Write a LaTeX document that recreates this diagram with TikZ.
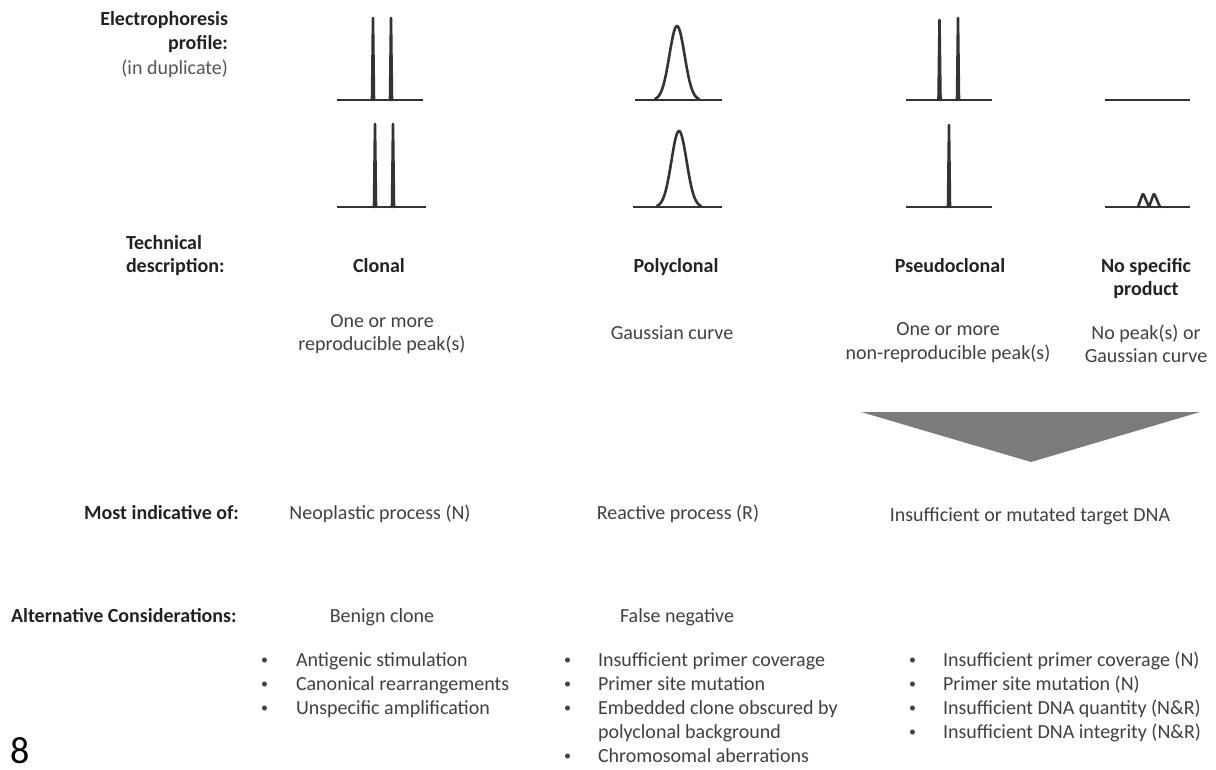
\documentclass[tikz,border=0pt]{standalone}
\usepackage{fontspec}
\setmainfont{Carlito}
\definecolor{txtc}{HTML}{404040}
\definecolor{boldc}{HTML}{222222}
\definecolor{grayc}{HTML}{555555}
\definecolor{linec}{HTML}{333333}
\definecolor{arrowc}{HTML}{7B7B7B}
\newcommand{\bul}[1]{\makebox[#1][l]{\hspace{2pt}\raisebox{1.8pt}{\scalebox{0.7}{•}}}}
\begin{document}
\begin{tikzpicture}[x=1pt,y=-1pt,
  every node/.style={inner sep=0pt, outer sep=0pt},
  hdr/.style={font=\bfseries\fontsize{20}{23}\selectfont, text=boldc},
  txt/.style={font=\fontsize{20}{23}\selectfont, text=txtc},
  lst/.style={font=\fontsize{20}{24}\selectfont, text=txtc, align=left, anchor=base west},
  trace/.style={draw=linec, line width=2.6pt, line join=round, line cap=round},
  axisline/.style={draw=linec, line width=2.6pt}]
\useasboundingbox (0,0) rectangle (1216,769);

% ---- row labels (multi-line nodes: base = last line) ----
\node[hdr, align=right, anchor=base east, font=\bfseries\fontsize{20}{24.5}\selectfont] (lab1) at (228,74)
  {Electrophoresis\\profile:\\\mdseries\textcolor{grayc}{(in duplicate)}};
\node[hdr, align=left, anchor=base west] (lab2) at (126,272) {Technical\\description:};
\node[hdr, anchor=base east] (lab3) at (239,519) {Most indicative of:};
\node[hdr, anchor=base west] (lab4) at (11,622) {Alternative Considerations:};

% ---- profiles: clonal ----
\draw[axisline] (337,100) -- (423,100);
\draw[trace] (372,100) -- (373,18) -- (374,100);
\draw[trace] (390,100) -- (391,18) -- (392,100);
\draw[axisline] (337,207) -- (426,207);
\draw[trace] (374,207) -- (375,124) -- (376,207);
\draw[trace] (392,207) -- (393,124) -- (394,207);

% ---- profiles: polyclonal ----
\draw[axisline] (635,100) -- (722,100);
\draw[trace] plot[domain=-22:22, samples=61, smooth] ({677+\x},{100-74*exp(-(\x*\x)/115)});
\draw[axisline] (633,207) -- (722,207);
\draw[trace] plot[domain=-22:22, samples=61, smooth] ({679+\x},{207-76*exp(-(\x*\x)/115)});

% ---- profiles: pseudoclonal ----
\draw[axisline] (906,100) -- (992,100);
\draw[trace] (938.5,100) -- (939.5,20) -- (940.5,100);
\draw[trace] (957,100) -- (958,18) -- (959,100);
\draw[axisline] (906,207) -- (992,207);
\draw[trace] (948,207) -- (949,125) -- (950,207);

% ---- profiles: no specific product ----
\draw[axisline] (1105,100) -- (1190,100);
\draw[axisline] (1105,207) -- (1190,207);
\draw[trace, rounded corners=1.5pt] (1138,207) -- (1143,193) -- (1149,207) -- (1154,193) -- (1160,207);

% ---- technical description ----
\node[hdr, anchor=base] (c1) at (379,272) {Clonal};
\node[hdr, anchor=base] (c2) at (676,272) {Polyclonal};
\node[hdr, anchor=base] (c3) at (950,272) {Pseudoclonal};
\node[hdr, anchor=base, align=center] (c4) at (1146,295) {No specific\\product};

\node[txt, anchor=base, align=center] (d1) at (382,350) {One or more\\reproducible peak(s)};
\node[txt, anchor=base] (d2) at (672,339) {Gaussian curve};
\node[txt, anchor=base, align=center, font=\fontsize{20}{24}\selectfont] (d3) at (948,359) {One or more\\non-reproducible peak(s)};
\node[txt, anchor=base, align=center] (d4) at (1146,362) {No peak(s) or\\Gaussian curve};

% ---- merging arrow ----
\fill[arrowc] (861,412) -- (1200,412) -- (1031,462) -- cycle;

% ---- most indicative of ----
\node[txt, anchor=base] (m1) at (380,519) {Neoplastic process (N)};
\node[txt, anchor=base] (m2) at (678,519) {Reactive process (R)};
\node[txt, anchor=base] (m3) at (1030,521) {Insufficient or mutated target DNA};

% ---- alternative considerations ----
\node[txt, anchor=base] (a1) at (382,622) {Benign clone};
\node[txt, anchor=base] (a2) at (677,622) {False negative};

\node[lst] (l1) at (259,714) {\bul{37pt}Antigenic stimulation\\
\bul{37pt}Canonical rearrangements\\
\bul{37pt}Unspecific amplification};
\node[lst] (l2) at (562,762) {\bul{36pt}Insufficient primer coverage\\
\bul{36pt}Primer site mutation\\
\bul{36pt}Embedded clone obscured by\\
\makebox[36pt][l]{}polyclonal background\\
\bul{36pt}Chromosomal aberrations};
\node[lst] (l3) at (907,738) {\bul{36pt}Insufficient primer coverage (N)\\
\bul{36pt}Primer site mutation (N)\\
\bul{36pt}Insufficient DNA quantity (N\&R)\\
\bul{36pt}Insufficient DNA integrity (N\&R)};

% ---- page number ----
\node[anchor=base west, font=\fontsize{38}{42}\selectfont, text=black] (pg) at (10,763) {8};
\end{tikzpicture}
\end{document}
